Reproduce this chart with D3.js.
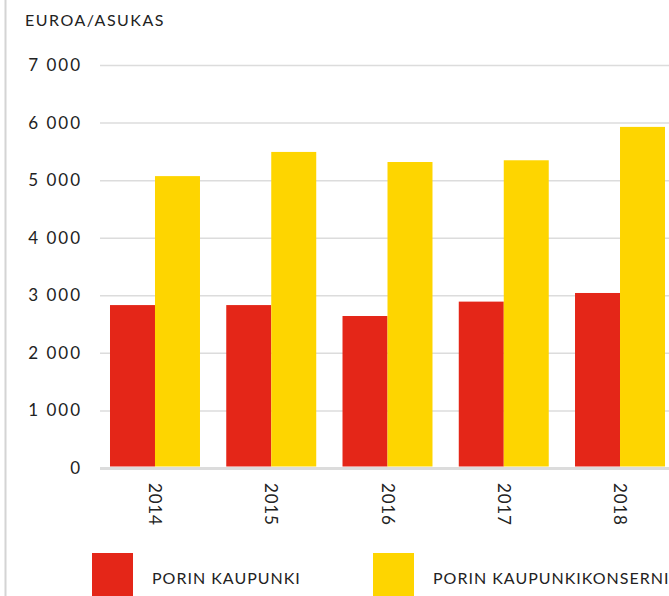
<!DOCTYPE html>
<html>
<head>
<meta charset="utf-8">
<script src="https://cdn.jsdelivr.net/npm/d3@7"></script>
<style>
  body { margin: 0; background: #fff; }
  svg { display: block; font-family: Lato, 'Noto Sans', sans-serif; }
</style>
</head>
<body>
<svg id="board" width="669" height="596"></svg>
<script>
// Chart data
let years = ['2014', '2015', '2016', '2017', '2018']
let seriesNames = ['PORIN KAUPUNKI', 'PORIN KAUPUNKIKONSERNI']
let kaupunki = [2830, 2830, 2640, 2890, 3040]
let konserni = [5070, 5490, 5315, 5345, 5925]
let yTicks = [0, 1000, 2000, 3000, 4000, 5000, 6000, 7000]
let colors = ['#e42618', '#fed500']

let board = d3.select('#board')

// Scales
let x = d3.scaleBand()
    .domain(years)
    .range([100, 675])
    .paddingInner(0.226)
    .paddingOuter(0.086)

let xInner = d3.scaleBand()
    .domain([0, 1])
    .range([0, x.bandwidth()])

let y = d3.scaleLinear()
    .domain([0, 7000])
    .range([468, 65])

// Left frame line
board.append('line')
    .attr('x1', 5.5).attr('x2', 5.5)
    .attr('y1', 0).attr('y2', 596)
    .attr('stroke', '#d4d4d4')
    .attr('stroke-width', 2)

// Title
board.append('text')
    .attr('x', 25)
    .attr('y', 26)
    .attr('font-size', 16)
    .attr('fill', '#222')
    .attr('letter-spacing', 1.5)
    .text('EUROA/ASUKAS')

// Y axis with gridlines
let fmt = (d) => d3.format(',')(d).replace(/,/g, ' ')
let yAxis = board.append('g')
    .attr('transform', 'translate(100,0)')
    .call(d3.axisLeft(y).tickValues(yTicks).tickFormat(fmt).tickSize(-575).tickPadding(18))
yAxis.select('.domain').remove()
yAxis.selectAll('.tick line')
    .attr('stroke', '#dcdcdc')
    .attr('stroke-width', (d) => d === 0 ? 3 : 1.5)
yAxis.selectAll('.tick text')
    .attr('font-size', 17)
    .attr('fill', '#222')
    .attr('font-family', 'Lato, sans-serif')
    .attr('letter-spacing', 2)

// Bars
let groups = board.selectAll('g.year')
    .data(years)
    .enter()
    .append('g')
    .attr('class', 'year')
    .attr('transform', (d) => 'translate(' + x(d) + ',0)')

groups.selectAll('rect')
    .data((d, i) => [kaupunki[i], konserni[i]])
    .enter()
    .append('rect')
    .attr('x', (d, j) => xInner(j))
    .attr('width', xInner.bandwidth())
    .attr('y', (d) => y(d))
    .attr('height', (d) => y(0) - y(d) - 1.5)
    .attr('fill', (d, j) => colors[j])

// Year labels, rotated
board.selectAll('text.year')
    .data(years)
    .enter()
    .append('text')
    .attr('class', 'year')
    .attr('transform', (d) => 'translate(' + (x(d) + x.bandwidth() / 2 - 6) + ',483) rotate(90)')
    .attr('font-size', 17)
    .attr('fill', '#222')
    .attr('letter-spacing', 0.8)
    .text((d) => d)

// Legend
let legendX = [92, 373]
let legend = board.selectAll('g.legend')
    .data(seriesNames)
    .enter()
    .append('g')
    .attr('class', 'legend')
    .attr('transform', (d, i) => 'translate(' + legendX[i] + ',553)')

legend.append('rect')
    .attr('width', 41)
    .attr('height', 45)
    .attr('fill', (d, i) => colors[i])

legend.append('text')
    .attr('x', 60)
    .attr('y', 31)
    .attr('font-size', 16)
    .attr('fill', '#222')
    .attr('letter-spacing', 1)
    .text((d) => d)
</script>
</body>
</html>
